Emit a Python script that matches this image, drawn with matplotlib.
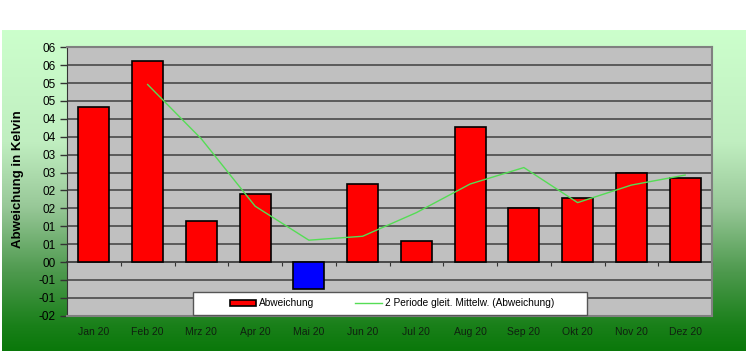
import numpy as np
import matplotlib
matplotlib.use("Agg")
import matplotlib.pyplot as plt
from matplotlib.colors import LinearSegmentedColormap
from matplotlib.patches import Rectangle

plt.rcParams['font.family'] = ['Liberation Sans', 'DejaVu Sans']

# Daten
monate = ["Jan 20", "Feb 20", "Mrz 20", "Apr 20", "Mai 20", "Jun 20",
          "Jul 20", "Aug 20", "Sep 20", "Okt 20", "Nov 20", "Dez 20"]
abweichung = [4.33, 5.61, 1.16, 1.91, -0.76, 2.17, 0.59, 3.76, 1.51, 1.79, 2.50, 2.36]
gleit_mittel = [np.nan, 4.96, 3.44, 1.56, 0.61, 0.72, 1.38, 2.18, 2.64, 1.66, 2.15, 2.43]
y_ticks = [-1.5, -1.0, -0.5, 0.0, 0.5, 1.0, 1.5, 2.0, 2.5, 3.0, 3.5, 4.0, 4.5, 5.0, 5.5, 6.0]
y_labels = ["-02", "-01", "-01", "00", "01", "01", "02", "02", "03", "03",
            "04", "04", "05", "05", "06", "06"]

W, H = 746, 351
fig = plt.figure(figsize=(W / 100, H / 100), dpi=100)
fig.patch.set_facecolor("white")

# Hintergrund mit Farbverlauf
bg = fig.add_axes([2 / W, 0, 1 - 2 / W, 1 - 30 / H])
cmap = LinearSegmentedColormap.from_list(
    "gruen", [(0.0, "#ccffcc"), (0.35, "#c0eec0"), (0.55, "#98c898"),
              (0.75, "#4f9a4f"), (0.92, "#1a801a"), (1.0, "#0a780a")])
bg.imshow(np.linspace(0, 1, 256).reshape(-1, 1), aspect="auto", cmap=cmap,
          extent=[0, 1, 0, 1])
bg.set_axis_off()

# Diagrammfläche
left, right, top, bottom = 67 / W, 712 / W, 1 - 47.3 / H, 1 - 315.7 / H
ax = fig.add_axes([left, bottom, right - left, top - bottom])
ax.set_facecolor("#c0c0c0")

x = np.arange(len(monate))
farben = ["#ff0000" if v >= 0 else "#0000ff" for v in abweichung]
balken = ax.bar(x, abweichung, width=0.58, color=farben, edgecolor="black",
                linewidth=1.2, zorder=3)
linie, = ax.plot(x, gleit_mittel, color="#55dd55", linewidth=1.0, zorder=4)

ax.set_xlim(-0.5, len(monate) - 0.5)
ax.set_ylim(-1.5, 6.0)
ax.set_yticks(y_ticks)
ax.set_yticklabels(y_labels, fontsize=8.5)
ax.yaxis.grid(True, color="#4a4a4a", linewidth=1.2, zorder=1)
ax.set_axisbelow(True)
ax.tick_params(axis="y", direction="out", length=5, width=1, color="#333333", pad=3)

ax.set_xticks(x)
ax.set_xticklabels(monate, fontsize=7.5, color="#102010")
ax.tick_params(axis="x", length=0, pad=8)

for s in ["top", "right", "bottom"]:
    ax.spines[s].set_color("#808080")
    ax.spines[s].set_linewidth(1.5)
ax.spines["left"].set_color("#333333")

# Nulllinie mit Kategorie-Strichen
null = ax.secondary_xaxis(1.5 / 7.5)
null.set_xticks(np.arange(len(monate) + 1) - 0.5)
null.set_xticklabels([])
null.tick_params(direction="out", length=3, color="#333333")
null.spines["bottom"].set_color("#333333")
null.spines["bottom"].set_linewidth(1.2)

fig.text(18 / W, 0.49, "Abweichung in Kelvin", rotation=90, fontsize=9.5,
         fontweight="bold", ha="center", va="center")

# Legendenrahmen
box = Rectangle((193 / W, 1 - 315 / H), 394 / W, 23 / H,
                transform=fig.transFigure, facecolor="white",
                edgecolor="#555555", linewidth=1, zorder=5)
fig.add_artist(box)

leg = fig.legend([balken, linie],
                 ["Abweichung", "2 Periode gleit. Mittelw. (Abweichung)"],
                 loc="center", bbox_to_anchor=(392 / W, 1 - 303.5 / H),
                 ncol=2, fontsize=7.3, frameon=False, handlelength=2.6,
                 handleheight=0.6, handletextpad=0.3, columnspacing=4.0)
leg.set_zorder(6)

fig.savefig("out.png", dpi=100)
